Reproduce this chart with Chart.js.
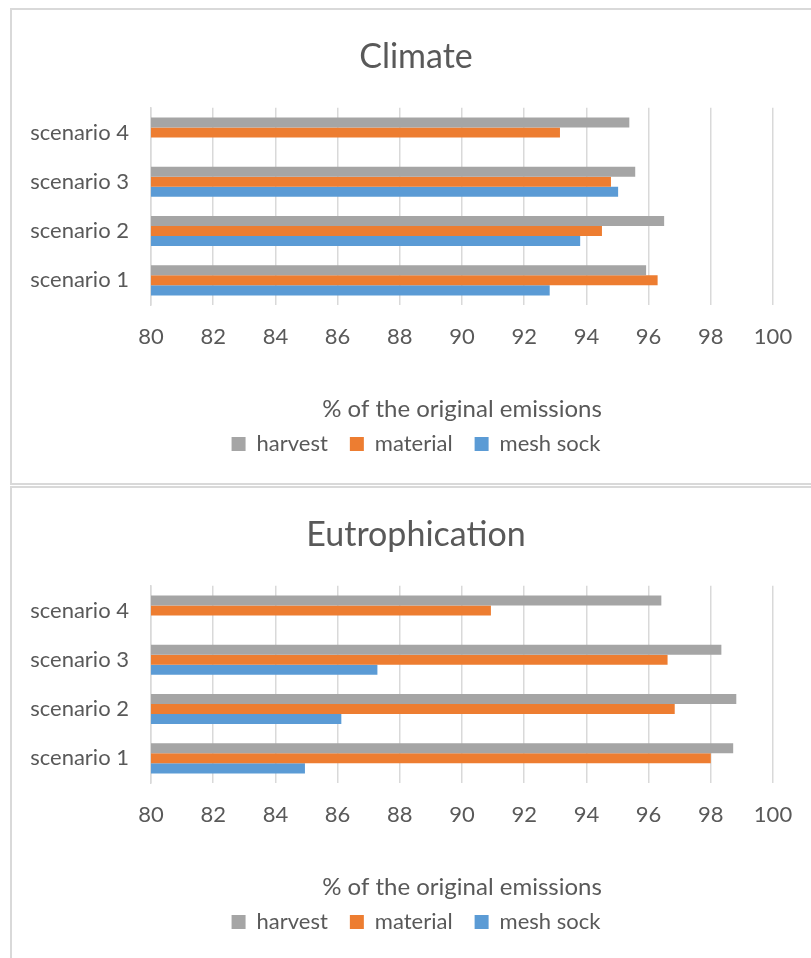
<!DOCTYPE html>
<html>
<head>
<meta charset="utf-8">
<script src="https://cdn.jsdelivr.net/npm/chart.js@4"></script>
<style>
  html, body { margin: 0; padding: 0; background: #fff; overflow: hidden; width: 811px; height: 958px; }
  .panel { position: absolute; left: 10px; width: 840px; height: 477px; box-sizing: border-box;
           border: 2px solid #d9d9d9; background: #fff; }
  .panel canvas { position: absolute; left: 0; top: 0; }
</style>
</head>
<body>
<div class="panel" style="top:8px"><canvas id="climate" width="813" height="473"></canvas></div>
<div class="panel" style="top:486px"><canvas id="eutro" width="813" height="473"></canvas></div>
<script>
// Scenario categories, listed top to bottom
const scenarios = ['scenario 4', 'scenario 3', 'scenario 2', 'scenario 1'];
const seriesNames = ['harvest', 'material', 'mesh sock'];
const seriesColors = ['#A5A5A5', '#ED7D31', '#5B9BD5'];
const xTicks = [80, 82, 84, 86, 88, 90, 92, 94, 96, 98, 100];

// Climate impact, % of the original emissions
const climateHarvest  = [95.38, 95.57, 96.50, 95.92];
const climateMaterial = [93.15, 94.79, 94.50, 96.29];
const climateMesh     = [null,  95.02, 93.80, 92.82];

// Eutrophication impact, % of the original emissions
const eutroHarvest  = [96.41, 98.34, 98.82, 98.72];
const eutroMaterial = [90.93, 96.61, 96.84, 98.00];
const eutroMesh     = [null,  87.28, 86.12, 84.95];

const FONT = 'Lato, "Open Sans", sans-serif';
const TEXT = '#595959';
const GRID = '#d9d9d9';

function makeChart(id, title, series) {
  const datasets = series.map((vals, i) => ({
    label: seriesNames[i],
    data: vals,
    backgroundColor: seriesColors[i],
    borderWidth: 0,
    categoryPercentage: 0.61,
    barPercentage: 1.0
  }));
  return new Chart(document.getElementById(id), {
    type: 'bar',
    data: { labels: scenarios, datasets },
    options: {
      indexAxis: 'y',
      responsive: false,
      animation: false,
      layout: { padding: { left: 0, right: 5, top: 0, bottom: 18 } },
      scales: {
        x: {
          min: 80, max: 100,
          afterBuildTicks: (s) => { s.ticks = xTicks.map(v => ({ value: v })); },
          afterFit: (s) => { s.height = 106; },
          grid: { color: GRID, lineWidth: 1.5, drawTicks: false },
          border: { display: false },
          ticks: { color: TEXT, font: { family: FONT, size: 22 }, padding: 19 },
          title: { display: true, text: '% of the original emissions', color: TEXT,
                   font: { family: FONT, size: 24 }, padding: { top: 0, bottom: -13 } }
        },
        y: {
          afterFit: (s) => { s.width = 139; },
          grid: { display: false, drawTicks: false },
          border: { display: true, color: GRID, width: 1.5 },
          ticks: { color: TEXT, font: { family: FONT, size: 22 }, padding: 22 }
        },
        // empty margin on the right of the plot area
        yRight: {
          type: 'linear', axis: 'y', position: 'right',
          afterFit: (s) => { s.width = 47; },
          grid: { display: false, drawTicks: false },
          border: { display: false },
          ticks: { display: false }
        }
      },
      plugins: {
        title: { display: true, text: title, color: TEXT,
                 font: { family: FONT, size: 34, weight: 'normal' }, padding: { top: 27, bottom: 30 } },
        legend: {
          position: 'bottom',
          labels: { color: TEXT, font: { family: FONT, size: 22 }, boxWidth: 14, boxHeight: 14, padding: 22 }
        },
        tooltip: { enabled: false }
      }
    }
  });
}

makeChart('climate', 'Climate', [climateHarvest, climateMaterial, climateMesh]);
makeChart('eutro', 'Eutrophication', [eutroHarvest, eutroMaterial, eutroMesh]);
</script>
</body>
</html>
